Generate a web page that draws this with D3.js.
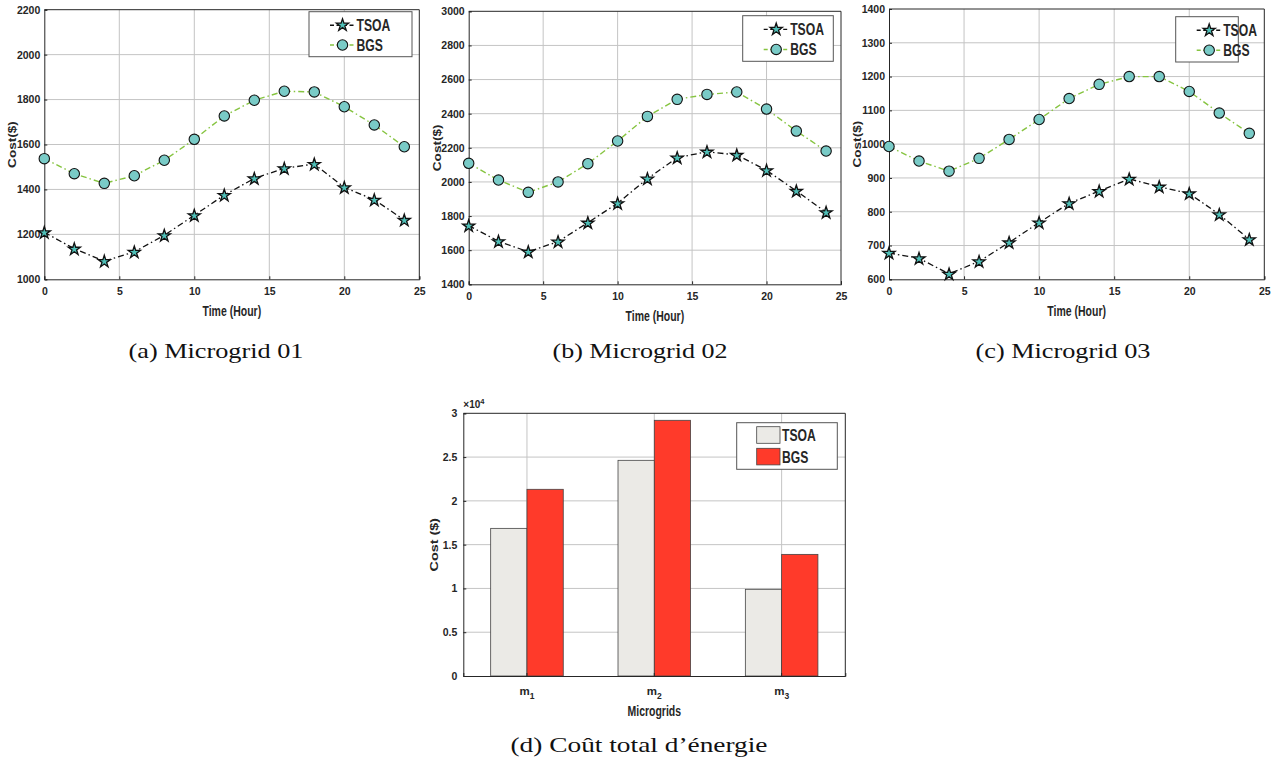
<!DOCTYPE html>
<html><head><meta charset="utf-8">
<script src="https://cdn.jsdelivr.net/npm/d3@7"></script>
<style>
html,body{margin:0;padding:0;background:#fff;}
svg{display:block;}
.tk{font-family:"Liberation Sans",Arial,sans-serif;font-weight:bold;fill:#262626;}
.cap{font-family:"Liberation Serif","Times New Roman",serif;fill:#111;}
</style></head>
<body>
<svg id="chart" width="1283" height="764"></svg>
<script>
// ---------------- data ----------------
const hours = [0, 2, 4, 6, 8, 10, 12, 14, 16, 18, 20, 22, 24];
const xTicks = [0, 5, 10, 15, 20, 25];

const tsoaMG1 = [1209, 1136, 1081, 1122, 1196, 1285, 1375, 1449, 1494, 1513, 1409, 1354, 1264];
const bgsMG1  = [1537, 1470, 1427, 1461, 1530, 1623, 1727, 1797, 1837, 1834, 1768, 1687, 1590];
const yTicksMG1 = [1000, 1200, 1400, 1600, 1800, 2000, 2200];

const tsoaMG2 = [1744, 1652, 1591, 1650, 1761, 1875, 2019, 2142, 2177, 2158, 2068, 1947, 1822];
const bgsMG2  = [2109, 2011, 1939, 2000, 2107, 2240, 2384, 2484, 2513, 2527, 2427, 2298, 2181];
const yTicksMG2 = [1400, 1600, 1800, 2000, 2200, 2400, 2600, 2800, 3000];

const tsoaMG3 = [678, 662, 616, 653, 709, 768, 825, 861, 897, 874, 854, 792, 718];
const bgsMG3  = [993, 950, 920, 958, 1014, 1073, 1135, 1177, 1200, 1200, 1156, 1092, 1032];
const yTicksMG3 = [600, 700, 800, 900, 1000, 1100, 1200, 1300, 1400];

const microgrids = ["1", "2", "3"];           // subscripts of m
const totalTSOA = [16860, 24630, 9900];
const totalBGS  = [21320, 29200, 13890];
const barTicks  = [0, 0.5, 1, 1.5, 2, 2.5, 3]; // ×10^4

const seriesNames = ["TSOA", "BGS"];
const captions = ["(a) Microgrid 01", "(b) Microgrid 02", "(c) Microgrid 03", "(d) Coût total d’énergie"];

// ---------------- styles ----------------
const C = {
  axis: "#262626", grid: "#c4c4c4",
  tsoaLine: "#111", bgsLine: "#86c440",
  starFill: "#4fc0b8", circFill: "#79cbc7",
  barT: "#ebeae6", barB: "#ff3a2a"
};
const SQ = 0.76; // horizontal squeeze of the figure's sans text
const svg = d3.select("#chart");

function hText(g, x, y, size, anchor, str) {
  return g.append("text").attr("class", "tk").attr("font-size", size).attr("text-anchor", anchor)
    .attr("transform", `translate(${x},${y}) scale(${SQ},1)`).text(str);
}
function vText(g, x, y, size, str) {
  return g.append("text").attr("class", "tk").attr("font-size", size).attr("text-anchor", "middle")
    .attr("transform", `translate(${x},${y}) rotate(-90) scale(1,${SQ})`).text(str);
}
function caption(x, y, w, str) {
  svg.append("text").attr("class", "cap").attr("font-size", 21).attr("text-anchor", "middle")
    .attr("x", x).attr("y", y).attr("textLength", w).attr("lengthAdjust", "spacingAndGlyphs").text(str);
}

function linePanel(cfg) {
  const g = svg.append("g");
  const x = d3.scaleLinear().domain([0, 25]).range([cfg.l, cfg.r]);
  const y = d3.scaleLinear().domain([cfg.yTicks[0], cfg.yTicks[cfg.yTicks.length - 1]]).range([cfg.b, cfg.t]);
  // grid
  g.append("g").selectAll("line").data(xTicks.slice(1, -1)).join("line")
    .attr("x1", d => x(d)).attr("x2", d => x(d)).attr("y1", cfg.t).attr("y2", cfg.b)
    .attr("stroke", C.grid).attr("stroke-width", 1);
  g.append("g").selectAll("line").data(cfg.yTicks.slice(1, -1)).join("line")
    .attr("x1", cfg.l).attr("x2", cfg.r).attr("y1", d => y(d)).attr("y2", d => y(d))
    .attr("stroke", C.grid).attr("stroke-width", 1);
  // axes
  const ax = g.append("g").attr("transform", `translate(0,${cfg.b})`)
    .call(d3.axisBottom(x).tickValues(xTicks).tickSize(-3).tickPadding(8).tickFormat(d3.format("d")));
  const ay = g.append("g").attr("transform", `translate(${cfg.l},0)`)
    .call(d3.axisLeft(y).tickValues(cfg.yTicks).tickSize(-3).tickPadding(4).tickFormat(d3.format("d")));
  [ax, ay].forEach(a => {
    a.select(".domain").attr("stroke", C.axis).attr("stroke-width", 1);
    a.selectAll(".tick line").attr("stroke", C.axis);
    a.selectAll("text").attr("class", "tk").attr("font-size", 10.5);
  });
  g.append("line").attr("x1", cfg.l).attr("x2", cfg.r).attr("y1", cfg.t).attr("y2", cfg.t).attr("stroke", C.axis);
  g.append("line").attr("x1", cfg.r).attr("x2", cfg.r).attr("y1", cfg.t).attr("y2", cfg.b).attr("stroke", C.axis);
  // labels
  hText(g, (cfg.l + cfg.r) / 2, cfg.b + 37, 13.8, "middle", "Time (Hour)");
  vText(g, cfg.l - 28, (cfg.t + cfg.b) / 2, 13.6, "Cost($)");
  // lines
  const line = d3.line().x((d, i) => x(hours[i])).y(d => y(d));
  g.append("path").datum(cfg.bgs).attr("d", line).attr("fill", "none")
    .attr("stroke", C.bgsLine).attr("stroke-width", 1.4).attr("stroke-dasharray", "6,3,1.5,3");
  g.append("path").datum(cfg.tsoa).attr("d", line).attr("fill", "none")
    .attr("stroke", C.tsoaLine).attr("stroke-width", 1.3).attr("stroke-dasharray", "6,3,1.5,3");
  g.append("g").selectAll("circle").data(cfg.bgs).join("circle")
    .attr("cx", (d, i) => x(hours[i])).attr("cy", d => y(d)).attr("r", 5.2)
    .attr("fill", C.circFill).attr("stroke", "#111").attr("stroke-width", 1.1);
  const star = d3.symbol().type(d3.symbolStar).size(46);
  g.append("g").selectAll("path").data(cfg.tsoa).join("path")
    .attr("d", star).attr("transform", (d, i) => `translate(${x(hours[i])},${y(d) + 0.5})`)
    .attr("fill", C.starFill).attr("stroke", "#111").attr("stroke-width", 1.3);
  // legend
  const L = cfg.leg;
  g.append("rect").attr("x", L.x0).attr("y", L.y0).attr("width", L.x1 - L.x0).attr("height", L.y1 - L.y0)
    .attr("fill", "#fff").attr("stroke", "#555").attr("stroke-width", 1);
  const rows = [
    {name: seriesNames[0], col: C.tsoaLine, mark: "star", fy: 0.3},
    {name: seriesNames[1], col: C.bgsLine, mark: "circ", fy: 0.74}
  ];
  rows.forEach(rw => {
    const yy = L.y0 + (L.y1 - L.y0) * rw.fy;
    const lx0 = L.x0 + 21, lx1 = L.x0 + 46, mx = (lx0 + lx1) / 2;
    g.append("line").attr("x1", lx0).attr("x2", lx1).attr("y1", yy).attr("y2", yy)
      .attr("stroke", rw.col).attr("stroke-width", 1.4).attr("stroke-dasharray", "4,2.5");
    if (rw.mark === "star") {
      g.append("path").attr("d", star).attr("transform", `translate(${mx},${yy})`)
        .attr("fill", C.starFill).attr("stroke", "#111").attr("stroke-width", 1.3);
    } else {
      g.append("circle").attr("cx", mx).attr("cy", yy).attr("r", 5.2)
        .attr("fill", C.circFill).attr("stroke", "#111").attr("stroke-width", 1.1);
    }
    hText(g, lx1 + 1.5, yy + 5.8, 16, "start", rw.name).attr("fill", "#111");
  });
  caption(cfg.capX, 357.5, 175, cfg.caption);
}

linePanel({l: 44.3, r: 419.3, t: 9.7, b: 279.3, yTicks: yTicksMG1, tsoa: tsoaMG1, bgs: bgsMG1,
  leg: {x0: 309, x1: 412, y0: 11.7, y1: 56.7}, capX: 216, caption: captions[0]});
linePanel({l: 468.7, r: 841, t: 11.3, b: 284.3, yTicks: yTicksMG2, tsoa: tsoaMG2, bgs: bgsMG2,
  leg: {x0: 742.7, x1: 833.3, y0: 15.7, y1: 61.3}, capX: 640, caption: captions[1]});
linePanel({l: 889, r: 1264.3, t: 9, b: 279.3, yTicks: yTicksMG3, tsoa: tsoaMG3, bgs: bgsMG3,
  leg: {x0: 1175.7, x1: 1238.3, y0: 16.7, y1: 62}, capX: 1063, caption: captions[2]});

// ---------------- bar panel ----------------
(function () {
  const P = {l: 463.3, r: 845.3, t: 413.3, b: 676};
  const g = svg.append("g");
  const x = d3.scaleBand().domain(microgrids).range([P.l, P.r]).paddingInner(0).paddingOuter(0);
  const y = d3.scaleLinear().domain([0, 3]).range([P.b, P.t]);
  const bw = x.bandwidth() * 0.285;
  g.append("g").selectAll("line").data(microgrids).join("line")
    .attr("x1", d => x(d) + x.bandwidth() / 2).attr("x2", d => x(d) + x.bandwidth() / 2)
    .attr("y1", P.t).attr("y2", P.b).attr("stroke", C.grid);
  g.append("g").selectAll("line").data(barTicks.slice(1, -1)).join("line")
    .attr("x1", P.l).attr("x2", P.r).attr("y1", d => y(d)).attr("y2", d => y(d)).attr("stroke", C.grid);
  const data = microgrids.map((m, i) => ({m, t: totalTSOA[i] / 1e4, b: totalBGS[i] / 1e4}));
  g.append("g").selectAll("rect").data(data).join("rect")
    .attr("x", d => x(d.m) + x.bandwidth() / 2 - bw).attr("width", bw)
    .attr("y", d => y(d.t)).attr("height", d => y(0) - y(d.t))
    .attr("fill", C.barT).attr("stroke", "#444").attr("stroke-width", 0.8);
  g.append("g").selectAll("rect").data(data).join("rect")
    .attr("x", d => x(d.m) + x.bandwidth() / 2).attr("width", bw)
    .attr("y", d => y(d.b)).attr("height", d => y(0) - y(d.b))
    .attr("fill", C.barB).attr("stroke", "#444").attr("stroke-width", 0.8);
  const ay = g.append("g").attr("transform", `translate(${P.l},0)`)
    .call(d3.axisLeft(y).tickValues(barTicks).tickSize(-3).tickPadding(6).tickFormat(d => d3.format("")(d)));
  ay.select(".domain").attr("stroke", C.axis);
  ay.selectAll(".tick line").attr("stroke", C.axis);
  ay.selectAll("text").attr("class", "tk").attr("font-size", 10.5);
  const ax = g.append("g").attr("transform", `translate(0,${P.b})`)
    .call(d3.axisBottom(x).tickSize(-3).tickFormat(""));
  ax.select(".domain").attr("stroke", C.axis);
  ax.selectAll(".tick line").attr("stroke", C.axis);
  // m_i labels
  microgrids.forEach(m => {
    const t = g.append("text").attr("class", "tk").attr("font-size", 11.5).attr("font-weight", "normal")
      .attr("text-anchor", "middle").attr("x", x(m) + x.bandwidth() / 2).attr("y", P.b + 19);
    t.append("tspan").text("m");
    t.append("tspan").attr("dy", 3.5).attr("font-size", 8.5).text(m);
  });
  g.append("line").attr("x1", P.l).attr("x2", P.r).attr("y1", P.t).attr("y2", P.t).attr("stroke", C.axis);
  g.append("line").attr("x1", P.r).attr("x2", P.r).attr("y1", P.t).attr("y2", P.b).attr("stroke", C.axis);
  hText(g, (P.l + P.r) / 2, P.b + 40, 13.8, "middle", "Microgrids");
  vText(g, P.l - 25, (P.t + P.b) / 2, 14.4, "Cost ($)");
  const ex = g.append("text").attr("class", "tk").attr("font-weight", "normal").attr("font-size", 10)
    .attr("x", P.l).attr("y", P.t - 5);
  ex.append("tspan").text("×10");
  ex.append("tspan").attr("dy", -4).attr("font-size", 7.5).text("4");
  // legend
  const L = {x0: 736.7, x1: 837.3, y0: 422.7, y1: 469.3};
  g.append("rect").attr("x", L.x0).attr("y", L.y0).attr("width", L.x1 - L.x0).attr("height", L.y1 - L.y0)
    .attr("fill", "#fff").attr("stroke", "#555");
  [[seriesNames[0], C.barT, 426.7], [seriesNames[1], C.barB, 448.3]].forEach(([n, c, yy]) => {
    g.append("rect").attr("x", 756.7).attr("y", yy).attr("width", 23.3).attr("height", 16.6)
      .attr("fill", c).attr("stroke", "#444").attr("stroke-width", 0.8);
    hText(g, 782, yy + 14.3, 16, "start", n).attr("fill", "#111");
  });
  caption(639, 751.5, 257, captions[3]);
})();
</script>
</body></html>
